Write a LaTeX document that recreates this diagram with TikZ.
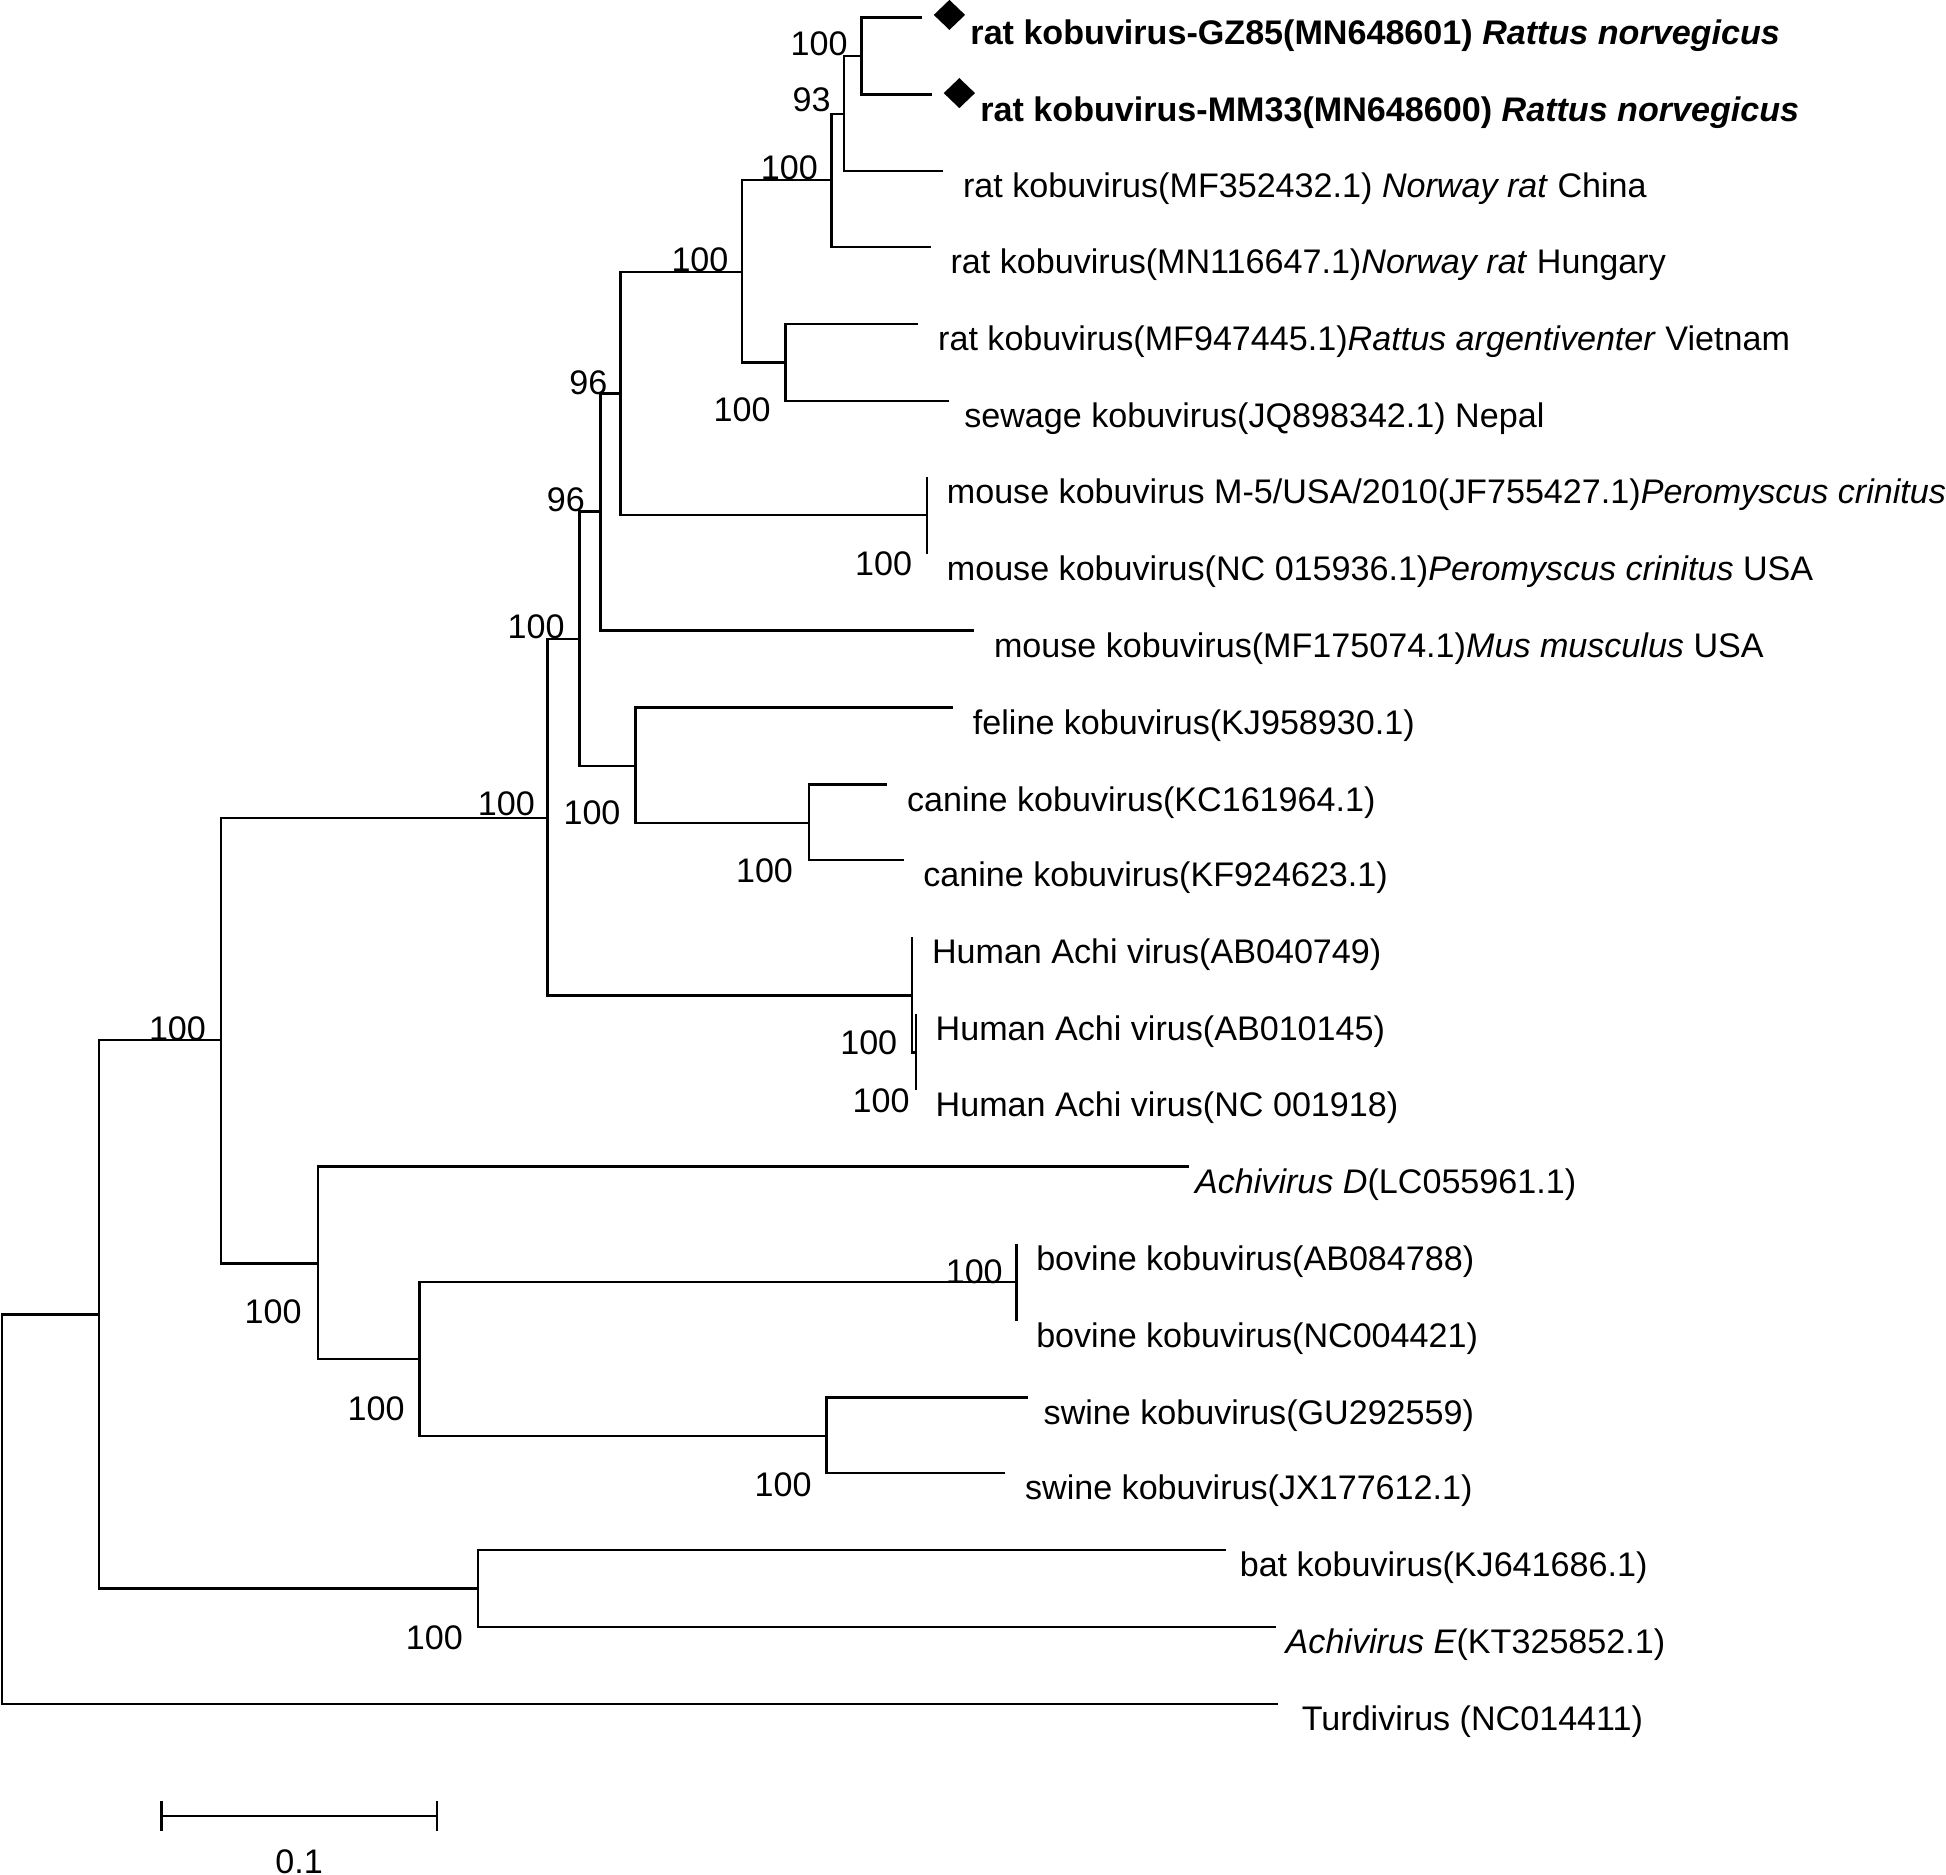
\documentclass[tikz,border=0pt]{standalone}
\usepackage{fontspec}
\setmainfont{Liberation Sans}
\usetikzlibrary{shapes.geometric}

\tikzset{
  taxon/.style={anchor=base west, inner sep=0pt, xshift=1.5mm, yshift=-2.15mm},
  boot/.style={inner sep=0pt},
  tag/.style={diamond, fill=black, inner sep=0pt, minimum width=2.6mm, minimum height=2.5mm}
}

\begin{document}
\begin{tikzpicture}[x=0.1mm, y=-0.1mm, line width=0.55pt, font=\fontsize{7.82pt}{9.4pt}\selectfont]

  \useasboundingbox (0,0) rectangle (1568,1510);

  % Leaf tips
  \coordinate (t1) at (743,14);
  \coordinate (t2) at (751,76);
  \coordinate (t3) at (760,138);
  \coordinate (t4) at (750,199);
  \coordinate (t5) at (740,261);
  \coordinate (t6) at (765,323);
  \coordinate (t7) at (747,384);
  \coordinate (t8) at (747,446);
  \coordinate (t9) at (785,508);
  \coordinate (t10) at (768,570);
  \coordinate (t11) at (715,632);
  \coordinate (t12) at (728,693);
  \coordinate (t13) at (735,755);
  \coordinate (t14) at (738,817);
  \coordinate (t15) at (738,878);
  \coordinate (t16) at (958,940);
  \coordinate (t17) at (819,1002);
  \coordinate (t18) at (819,1064);
  \coordinate (t19) at (828,1126);
  \coordinate (t20) at (810,1187);
  \coordinate (t21) at (988,1249);
  \coordinate (t22) at (1028,1311);
  \coordinate (t23) at (1030,1373);

  % Inner nodes
  \coordinate (n1) at (694,45);
  \coordinate (n2) at (680,92);
  \coordinate (n3) at (670,145);
  \coordinate (n4) at (633,292);
  \coordinate (n5) at (598,219);
  \coordinate (n6) at (747,415);
  \coordinate (n7) at (500,317);
  \coordinate (n8) at (484,412);
  \coordinate (n9) at (652,663);
  \coordinate (n10) at (512,617);
  \coordinate (n11) at (467,515);
  \coordinate (n12) at (738,848);
  \coordinate (n13) at (735,802);
  \coordinate (n14) at (441,659);
  \coordinate (n15) at (819,1033);
  \coordinate (n16) at (666,1157);
  \coordinate (n17) at (338,1095);
  \coordinate (n18) at (256,1018);
  \coordinate (n19) at (178,838);
  \coordinate (n20) at (385,1280);
  \coordinate (n21) at (80,1059);
  \coordinate (root) at (1.5,1216);

  % Draw branches
  \draw (n1) |- (t1);  \draw (n1) |- (t2);
  \draw (n2) |- (n1);  \draw (n2) |- (t3);
  \draw (n3) |- (n2);  \draw (n3) |- (t4);
  \draw (n4) |- (t5);  \draw (n4) |- (t6);
  \draw (n5) |- (n3);  \draw (n5) |- (n4);
  \draw (n6) |- (t7);  \draw (n6) |- (t8);
  \draw (n7) |- (n5);  \draw (n7) |- (n6);
  \draw (n8) |- (n7);  \draw (n8) |- (t9);
  \draw (n9) |- (t11); \draw (n9) |- (t12);
  \draw (n10) |- (t10); \draw (n10) |- (n9);
  \draw (n11) |- (n8); \draw (n11) |- (n10);
  \draw (n12) |- (t14); \draw (n12) |- (t15);
  \draw (n13) |- (t13); \draw (n13) |- (n12);
  \draw (n14) |- (n11); \draw (n14) |- (n13);
  \draw (n15) |- (t17); \draw (n15) |- (t18);
  \draw (n16) |- (t19); \draw (n16) |- (t20);
  \draw (n17) |- (n15); \draw (n17) |- (n16);
  \draw (n18) |- (t16); \draw (n18) |- (n17);
  \draw (n19) |- (n14); \draw (n19) |- (n18);
  \draw (n20) |- (t21); \draw (n20) |- (t22);
  \draw (n21) |- (n19); \draw (n21) |- (n20);
  \draw (root) |- (n21); \draw (root) |- (t23);

  % Marked sequences
  \node[tag] (d1) at (765,12) {};
  \node[tag] (d2) at (773,75) {};

  % Taxon names
  \node[taxon, xshift=2.3mm] (l1) at (t1) {\textbf{rat kobuvirus-GZ85(MN648601) \textit{Rattus norvegicus}}};
  \node[taxon, xshift=2.3mm] (l2) at (t2) {\textbf{rat kobuvirus-MM33(MN648600) \textit{Rattus norvegicus}}};
  \node[taxon] (l3) at (t3) {rat kobuvirus(MF352432.1) \textit{Norway rat} China};
  \node[taxon] (l4) at (t4) {rat kobuvirus(MN116647.1)\textit{Norway rat} Hungary};
  \node[taxon] (l5) at (t5) {rat kobuvirus(MF947445.1)\textit{Rattus argentiventer} Vietnam};
  \node[taxon, xshift=-0.4mm] (l6) at (t6) {sewage kobuvirus(JQ898342.1) Nepal};
  \node[taxon] (l7) at (t7) {mouse kobuvirus M-5/USA/2010(JF755427.1)\textit{Peromyscus crinitus}};
  \node[taxon] (l8) at (t8) {mouse kobuvirus(NC 015936.1)\textit{Peromyscus crinitus} USA};
  \node[taxon] (l9) at (t9) {mouse kobuvirus(MF175074.1)\textit{Mus musculus} USA};
  \node[taxon] (l10) at (t10) {feline kobuvirus(KJ958930.1)};
  \node[taxon] (l11) at (t11) {canine kobuvirus(KC161964.1)};
  \node[taxon] (l12) at (t12) {canine kobuvirus(KF924623.1)};
  \node[taxon] (l13) at (t13) {Human Achi virus(AB040749)};
  \node[taxon] (l14) at (t14) {Human Achi virus(AB010145)};
  \node[taxon] (l15) at (t15) {Human Achi virus(NC 001918)};
  \node[taxon, xshift=-1.1mm] (l16) at (t16) {\textit{Achivirus D}(LC055961.1)};
  \node[taxon] (l17) at (t17) {bovine kobuvirus(AB084788)};
  \node[taxon] (l18) at (t18) {bovine kobuvirus(NC004421)};
  \node[taxon, xshift=-0.3mm] (l19) at (t19) {swine kobuvirus(GU292559)};
  \node[taxon] (l20) at (t20) {swine kobuvirus(JX177612.1)};
  \node[taxon, xshift=-0.5mm] (l21) at (t21) {bat kobuvirus(KJ641686.1)};
  \node[taxon, xshift=-0.8mm] (l22) at (t22) {\textit{Achivirus E}(KT325852.1)};
  \node[taxon, xshift=0.3mm] (l23) at (t23) {Turdivirus (NC014411)};

  % Bootstrap values
  \node[boot] (b1) at (660,35) {100};
  \node[boot] (b2) at (654,80) {93};
  \node[boot] (b3) at (636,135) {100};
  \node[boot] (b4) at (598,330) {100};
  \node[boot] (b5) at (564,209) {100};
  \node[boot] (b6) at (712,454) {100};
  \node[boot] (b7) at (474,308) {96};
  \node[boot] (b8) at (456,403) {96};
  \node[boot] (b9) at (616,702) {100};
  \node[boot] (b10) at (477,655) {100};
  \node[boot] (b11) at (432,505) {100};
  \node[boot] (b12) at (710,887) {100};
  \node[boot] (b13) at (700,840) {100};
  \node[boot] (b14) at (408,648) {100};
  \node[boot] (b15) at (785,1025) {100};
  \node[boot] (b16) at (631,1196) {100};
  \node[boot] (b17) at (303,1135) {100};
  \node[boot] (b18) at (220,1057) {100};
  \node[boot] (b19) at (143,829) {100};
  \node[boot] (b20) at (350,1320) {100};

  % Scale bar
  \coordinate (s0) at (130,1463);
  \coordinate (s1) at (352,1463);
  \draw (s0) -- (s1);
  \draw ([yshift=1.2mm]s0) -- ([yshift=-1.2mm]s0);
  \draw ([yshift=1.2mm]s1) -- ([yshift=-1.2mm]s1);
  \node[boot] (sl) at (241,1500) {0.1};

\end{tikzpicture}
\end{document}
